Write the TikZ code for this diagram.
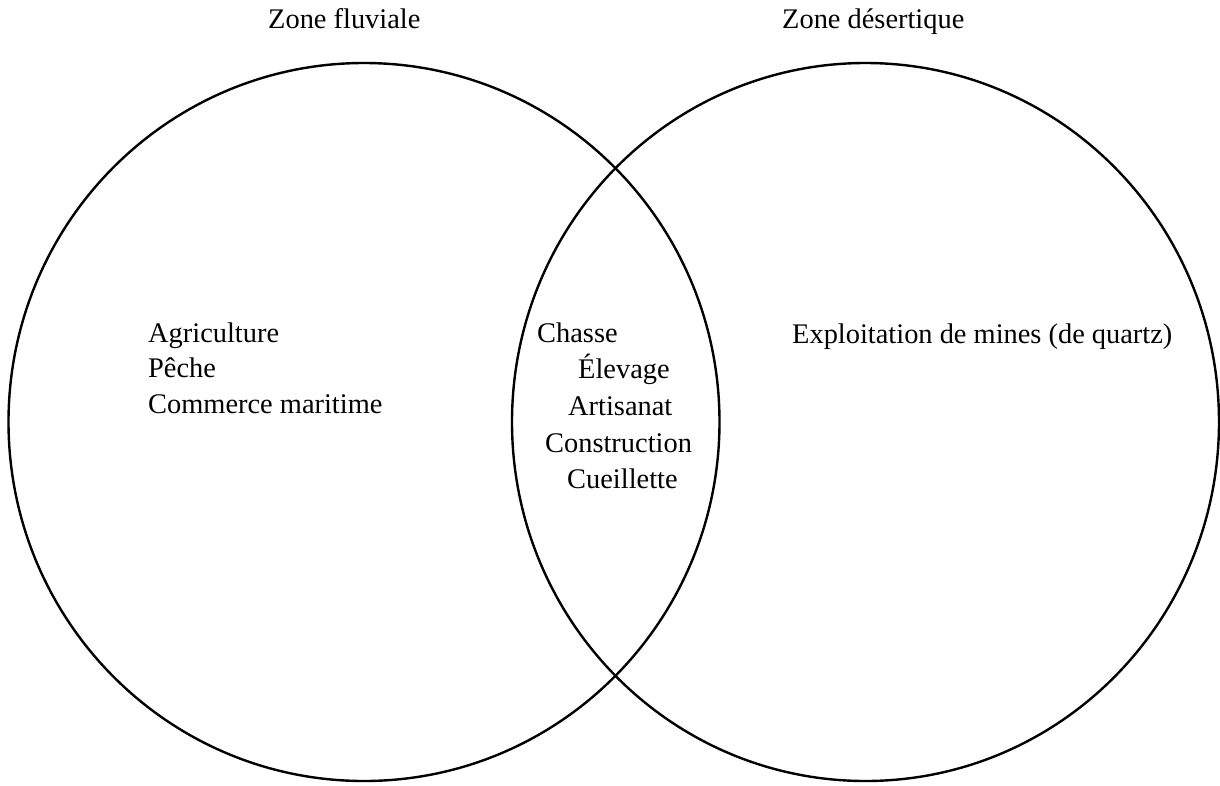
\documentclass[tikz,border=0pt]{standalone}
\usepackage{fontspec}
\setmainfont{Liberation Serif}
\begin{document}
\begin{tikzpicture}[x=1pt,y=-1pt,
  zone/.style={draw=black,line width=2.4pt},
  label/.style={anchor=base west,inner sep=0pt,font=\fontsize{28.4}{34}\selectfont}]
\useasboundingbox (0,0) rectangle (1220,785);
% the two overlapping zones
\draw[zone] (364,422) ellipse [x radius=355.5, y radius=359];
\draw[zone] (865.5,422) ellipse [x radius=353.5, y radius=359];
% headings
\node[label] (tf) at (268,28) {Zone fluviale};
\node[label] (td) at (782,28) {Zone désertique};
% river zone activities
\node[label] (a1) at (148,342) {Agriculture};
\node[label] (a2) at (148,377) {Pêche};
\node[label] (a3) at (148,413) {Commerce maritime};
% shared activities
\node[label] (b1) at (537,342) {Chasse};
\node[label] (b2) at (578,378) {Élevage};
\node[label] (b3) at (568,415) {Artisanat};
\node[label] (b4) at (545,452) {Construction};
\node[label] (b5) at (567,488) {Cueillette};
% desert zone activity
\node[label] (c1) at (792,343) {Exploitation de mines (de quartz)};
\end{tikzpicture}
\end{document}
